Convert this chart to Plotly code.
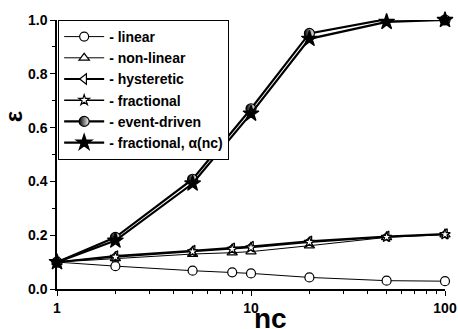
import plotly.graph_objects as go

nc_full = [1, 2, 5, 8, 10, 20, 50, 100]
nc_fast = [1, 2, 5, 10, 20, 50, 100]

linear = [0.100, 0.085, 0.068, 0.062, 0.058, 0.043, 0.031, 0.029]
non_linear = [0.100, 0.114, 0.130, 0.135, 0.139, 0.161, 0.192, 0.202]
hysteretic = [0.100, 0.123, 0.143, 0.152, 0.158, 0.178, 0.196, 0.205]
fractional = [0.100, 0.119, 0.139, 0.148, 0.154, 0.174, 0.193, 0.203]
event_driven = [0.100, 0.192, 0.408, 0.670, 0.950, 1.003, 1.000]
fractional_alpha = [0.100, 0.180, 0.392, 0.652, 0.930, 0.993, 1.000]

names = ["- linear", "- non-linear", "- hysteretic", "- fractional",
         "- event-driven", "- fractional, α(nc)"]

fig = go.Figure()

def add(x, y, name, symbol, size, fill, lw, mlw=1.2, gradient=None):
    marker = dict(symbol=symbol, size=size, color=fill,
                  line=dict(color="black", width=mlw))
    if gradient:
        marker["gradient"] = gradient
    fig.add_trace(go.Scatter(x=x, y=y, name=name, mode="lines+markers",
                             line=dict(color="black", width=lw),
                             marker=marker, cliponaxis=False))

add(nc_full, linear, names[0], "circle", 9, "white", 1)
add(nc_full, non_linear, names[1], "triangle-up", 9, "white", 1)
add(nc_full, hysteretic, names[2], "triangle-left", 9, "white", 1.8)
add(nc_full, fractional, names[3], "star", 8, "white", 1.5)
add(nc_fast, event_driven, names[4], "circle", 10, "black", 2.2,
    gradient=dict(type="horizontal", color="white"))
add(nc_fast, fractional_alpha, names[5], "star", 12, "black", 2.2)

font = dict(family="Liberation Sans, Arial, sans-serif", color="black")

fig.update_layout(
    width=458, height=329,
    margin=dict(l=57, r=13, t=20, b=40),
    paper_bgcolor="white", plot_bgcolor="white",
    font=dict(**font, size=13),
    showlegend=True,
    legend=dict(x=0.003, y=1.0, xanchor="left", yanchor="top",
                bgcolor="white", bordercolor="black", borderwidth=1,
                font=dict(**font, size=14, weight="bold"),
                tracegroupgap=0, itemwidth=40),
    annotations=[
        dict(text="ε", xref="paper", yref="paper", x=-0.11, y=0.64,
             xanchor="center", yanchor="middle", textangle=-90, showarrow=False,
             font=dict(**font, size=24, weight="bold")),
        dict(text="nc", xref="paper", yref="paper", x=0.549, y=-0.108,
             xanchor="center", yanchor="middle", showarrow=False,
             font=dict(**font, size=28, weight="bold")),
    ],
)

fig.update_xaxes(
    type="log", range=[0, 2], automargin=False,
    tickvals=[1, 10, 100], ticktext=["1", "10", "100"],
    ticks="outside", ticklen=5, tickwidth=1.2, tickcolor="black",
    minor=dict(tickvals=[2, 3, 4, 5, 6, 7, 8, 9, 20, 30, 40, 50, 60, 70, 80, 90],
               ticks="outside", ticklen=3, tickcolor="black", tickwidth=1),
    showline=True, linecolor="black", linewidth=1.5,
    showgrid=False, zeroline=False,
    tickfont=dict(**font, size=14, weight="bold"),
)
fig.update_yaxes(
    range=[0, 1.0], dtick=0.2, tickformat=".1f", automargin=False,
    ticks="outside", ticklen=5, tickwidth=1.2, tickcolor="black",
    minor=dict(dtick=0.1, ticks="outside", ticklen=3, tickcolor="black", tickwidth=1),
    showline=True, linecolor="black", linewidth=1.5,
    showgrid=False, zeroline=False,
    tickfont=dict(**font, size=14, weight="bold"),
)

fig.write_html(
    "out.html",
    config={"displayModeBar": False},
    post_script="document.body.style.margin='0';document.body.style.overflow='hidden';",
)
